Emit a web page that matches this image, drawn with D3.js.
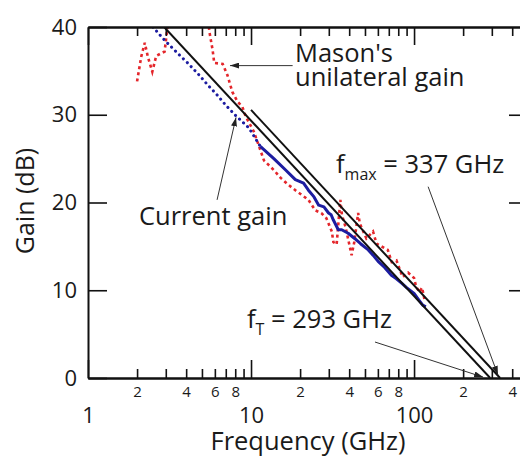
<!DOCTYPE html>
<html>
<head>
<meta charset="utf-8">
<script src="https://cdn.jsdelivr.net/npm/d3@7"></script>
<style>
  body { margin: 0; background: #fff; }
  text, tspan { font-family: 'Open Sans', sans-serif; fill: #1a1a1a; }
</style>
</head>
<body>
<svg id="drawing_region"></svg>
<script>
// x axis ticks (GHz, log scale)
const majorTicks = [1, 10, 100];
const minorTicks = [2, 3, 4, 5, 6, 7, 8, 9, 20, 30, 40, 50, 60, 70, 80, 90, 200, 300, 400];
const minorLabels = [2, 4, 6, 8, 20, 40, 60, 80, 200, 400];
const gainTicks = [0, 10, 20, 30, 40];

// Mason's unilateral gain (red dotted)
const masonFreq = [2.0, 2.12, 2.23, 2.33, 2.48, 2.62, 2.81, 2.95, 3.06, 3.2, 5.4, 5.55, 5.81, 5.95, 6.7, 7.17, 7.68, 8.26, 8.85, 9.28, 10.4, 12.0, 13.8, 15.2, 17.0, 18.7, 20, 22.5, 24.8, 27, 29, 31.3, 32, 33.5, 35.3, 36.1, 38, 41.4, 43, 45.4, 46.5, 51, 56, 58.9, 63, 69, 73, 78, 85, 92, 100, 103, 108, 112, 116];
const masonGain = [33.8, 36.6, 38.2, 36.6, 34.9, 36.7, 37.0, 37.2, 39.7, 42, 42, 39.5, 37.4, 35.9, 35.8, 34.5, 32.6, 31.5, 30.9, 29.8, 28.1, 24.8, 23.7, 22.8, 22.0, 21.4, 21.0, 20.3, 19.1, 18.8, 18.2, 16.7, 15.5, 15.2, 20.3, 18.6, 17.2, 14.0, 15.5, 18.8, 17.6, 15.9, 16.7, 15.3, 15.0, 14.6, 13.2, 13.4, 11.5, 12.0, 11.4, 10.4, 9.8, 10.3, 8.9];

// Current gain: sparse dotted part, then dense solid part
const currentDotFreq = [2.5, 2.95, 3.55, 4.09, 4.82, 5.42, 6.1, 6.99, 8.06, 9.7, 11.4];
const currentDotGain = [40.0, 38.5, 37.0, 35.9, 34.5, 33.4, 32.4, 31.1, 29.9, 28.5, 26.4];
const currentFreq = [11.4, 13.8, 16.3, 18.7, 21, 22.5, 24.2, 26, 28, 29.9, 31, 32, 34.3, 36, 39.4, 43.2, 47, 52.4, 56, 60.2, 66, 72.6, 78, 83.9, 90, 100, 106, 113, 118];
const currentGain = [26.4, 25.0, 23.7, 22.6, 22.2, 21.4, 20.7, 19.7, 19.5, 18.8, 18.6, 18.0, 16.9, 16.9, 16.5, 15.9, 15.3, 14.6, 14.0, 13.3, 12.6, 11.7, 11.3, 10.8, 10.3, 9.65, 9.0, 8.3, 8.1];

// -20 dB/decade extrapolations
const ftLineFreq = [2.93, 293];
const ftLineGain = [40, 0];
const fmaxLineFreq = [10, 337];
const fmaxLineGain = [30.55, 0];

class GainChart {
    constructor(config) {
        this.config = {
            parent: config.parent,
            width: config.width || 520,
            height: config.height || 457,
            left: config.left, right: config.right,
            top: config.top, bottom: config.bottom
        };
        this.init();
    }

    init() {
        let self = this;
        self.svg = d3.select(self.config.parent)
            .attr('width', self.config.width)
            .attr('height', self.config.height);

        self.x = d3.scaleLog().domain([1, 500]).range([self.config.left, self.config.right]);
        self.y = d3.scaleLinear().domain([0, 40]).range([self.config.bottom, self.config.top]);

        self.line = d3.line().x(d => self.x(d[0])).y(d => self.y(d[1]));

        let defs = self.svg.append('defs');
        defs.append('clipPath').attr('id', 'plot_clip')
            .append('rect')
            .attr('x', self.config.left).attr('y', self.config.top)
            .attr('width', self.config.right - self.config.left)
            .attr('height', self.config.bottom - self.config.top);
        defs.append('marker').attr('id', 'arrow')
            .attr('markerUnits', 'userSpaceOnUse')
            .attr('markerWidth', 9).attr('markerHeight', 6)
            .attr('refX', 9).attr('refY', 3)
            .attr('orient', 'auto')
            .append('path').attr('d', 'M0,0 L9,3 L0,6 Z').attr('fill', '#222');
    }

    render() {
        let self = this;
        let x = self.x, y = self.y;
        let plot = self.svg.append('g').attr('clip-path', 'url(#plot_clip)');

        // data
        plot.append('path')
            .attr('d', self.line(d3.zip(masonFreq, masonGain)))
            .attr('fill', 'none').attr('stroke', '#e4262b')
            .attr('stroke-width', 2.6).attr('stroke-dasharray', '3,3.2');

        plot.append('path')
            .attr('d', self.line(d3.zip(currentDotFreq, currentDotGain)))
            .attr('fill', 'none').attr('stroke', '#1c1ca0')
            .attr('stroke-width', 3).attr('stroke-linecap', 'round')
            .attr('stroke-dasharray', '0.1,5.4');

        plot.append('path')
            .attr('d', self.line(d3.zip(currentFreq, currentGain)))
            .attr('fill', 'none').attr('stroke', '#1c1ca0')
            .attr('stroke-width', 3).attr('stroke-linejoin', 'round');

        [[ftLineFreq, ftLineGain], [fmaxLineFreq, fmaxLineGain]].forEach(l => {
            plot.append('path')
                .attr('d', self.line(d3.zip(l[0], l[1])))
                .attr('fill', 'none').attr('stroke', '#111').attr('stroke-width', 2);
        });

        // axes
        let fmtMinor = d => minorLabels.includes(d) ? String(d).charAt(0) : '';
        let bottomMinor = self.svg.append('g')
            .attr('transform', `translate(0,${y(0)})`)
            .call(d3.axisBottom(x).tickValues(minorTicks).tickSize(-9).tickSizeOuter(0)
                .tickPadding(8).tickFormat(fmtMinor));
        bottomMinor.selectAll('text').style('font-size', '15px');

        let bottomMajor = self.svg.append('g')
            .attr('transform', `translate(0,${y(0)})`)
            .call(d3.axisBottom(x).tickValues(majorTicks).tickSize(-18).tickSizeOuter(0)
                .tickPadding(29).tickFormat(d3.format('d')));
        bottomMajor.selectAll('text').style('font-size', '22px');

        self.svg.append('g')
            .attr('transform', `translate(0,${y(40)})`)
            .call(d3.axisTop(x).tickValues(minorTicks).tickSize(-9).tickSizeOuter(0).tickFormat(''));
        self.svg.append('g')
            .attr('transform', `translate(0,${y(40)})`)
            .call(d3.axisTop(x).tickValues(majorTicks).tickSize(-18).tickSizeOuter(0).tickFormat(''));

        let left = self.svg.append('g')
            .attr('transform', `translate(${x(1)},0)`)
            .call(d3.axisLeft(y).tickValues(gainTicks).tickSize(-19).tickSizeOuter(0).tickPadding(11));
        left.selectAll('text').style('font-size', '22px');

        self.svg.append('g')
            .attr('transform', `translate(${self.config.right},0)`)
            .call(d3.axisRight(y).tickValues([10, 20, 30]).tickSize(-19).tickSizeOuter(0).tickFormat(''));

        self.svg.selectAll('.domain').attr('stroke', '#111').attr('stroke-width', 2);
        self.svg.selectAll('.tick line').attr('stroke', '#111').attr('stroke-width', 1.6);
        self.svg.selectAll('.tick text').attr('fill', '#1a1a1a')
            .style('font-family', "'Open Sans', sans-serif");

        // axis titles
        self.svg.append('text')
            .attr('x', 308).attr('y', 450)
            .attr('text-anchor', 'middle')
            .style('font-size', '25.5px')
            .text('Frequency (GHz)');
        self.svg.append('text')
            .attr('transform', 'translate(34,201) rotate(-90)')
            .attr('text-anchor', 'middle')
            .style('font-size', '25px')
            .text('Gain (dB)');

        // annotations: [tail f, tail dB, tip f, tip dB]
        let arrows = [[18.0, 35.6, 7.43, 35.6], [6.19, 20.3, 8.09, 29.7],
                      [122, 21.8, 327, 0.35], [57.6, 4.1, 265, 0.1]];
        arrows.forEach(a => {
            self.svg.append('line')
                .attr('x1', x(a[0])).attr('y1', y(a[1]))
                .attr('x2', x(a[2])).attr('y2', y(a[3]))
                .attr('stroke', '#333').attr('stroke-width', 1)
                .attr('marker-end', 'url(#arrow)');
        });

        let note = (tx, ty, parts) => {
            let t = self.svg.append('text').attr('x', tx).attr('y', ty).style('font-size', '25.5px');
            parts.forEach(p => {
                let s = t.append('tspan').attr('fill', '#1a1a1a').text(p.text);
                if (p.sub) s.style('font-size', '16px').attr('dy', 7);
                if (p.up) s.attr('dy', -7);
            });
        };
        note(295, 62, [{text: "Mason's"}]);
        note(295, 86, [{text: 'unilateral gain'}]);
        note(139, 225, [{text: 'Current gain'}]);
        note(336, 173, [{text: 'f'}, {text: 'max', sub: true}, {text: ' = 337 GHz', up: true}]);
        note(247, 328, [{text: 'f'}, {text: 'T', sub: true}, {text: ' = 293 GHz', up: true}]);
    }
}

let config = {
    parent: '#drawing_region',
    width: 520, height: 457,
    left: 88, right: 528, top: 27, bottom: 378
};
const chart = new GainChart(config);
chart.render();
</script>
</body>
</html>
